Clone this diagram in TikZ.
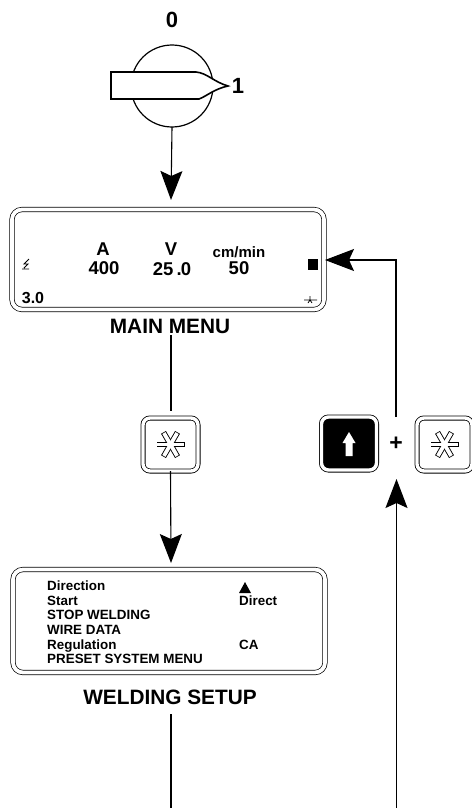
\documentclass[tikz,border=0pt]{standalone}
\usepackage{fontspec}
\setmainfont{Liberation Sans}
\usetikzlibrary{arrows.meta, positioning, calc}

\begin{document}
\begin{tikzpicture}[
    x=1pt, y=-1pt,
    node distance=40pt and 20pt,
    panel/.style  = {rectangle, draw, double, double distance=3.8pt, line width=0.7pt, rounded corners=10pt, minimum width=312pt, minimum height=100pt, outer sep=0pt, inner sep=0pt},
    keybox/.style = {rectangle, draw, double, double distance=3.4pt, line width=0.8pt, rounded corners=7pt, minimum width=55pt, minimum height=53pt, outer sep=0pt, inner sep=0pt},
    title/.style  = {font=\bfseries\fontsize{20.8}{20.8}\selectfont, inner sep=0pt},
    readout/.style= {font=\bfseries\fontsize{18.5}{18.5}\selectfont, inner sep=0pt},
    menuline/.style = {font=\bfseries\fontsize{13.4}{13.4}\selectfont, inner sep=0pt, anchor=base west},
    position/.style = {font=\bfseries\fontsize{22}{22}\selectfont, inner sep=0pt},
    arrow/.style  = {-{Stealth[length=29pt, width=22pt, inset=5pt]}, line width=1.1pt}
]
\useasboundingbox (0,0) rectangle (471,808);

% --- Switch ---
\node[circle, draw, line width=1.2pt, minimum size=82pt, inner sep=0pt, outer sep=0pt] (dial) at (172,86) {};
\draw[fill=white, line width=1.6pt] (111,72) -- (196,72) .. controls (207,73) and (214,82) .. (228,86) .. controls (214,89) and (207,96) .. (199,99) -- (111,99) -- cycle;
\node[position] (off) at (172,20) {0};
\node[position] (on) at (238,86) {1};

% --- Main menu ---
\node[panel] (menu) at (168,259.5) {};
\node[readout] (amp) at (103,249) {A};
\node[readout] (ampval) at (104,268) {400};
\node[readout] (volt) at (171,249) {V};
\node[readout] (voltval) at (172,269) {25\,.\kern-1pt0};
\node[font=\bfseries\fontsize{15}{15}\selectfont, inner sep=0pt] (speed) at (239,252) {cm/min};
\node[readout] (speedval) at (239,268) {50};
\node[fill, minimum size=10.5pt, inner sep=0pt, outer sep=0pt] (cursor) at (313,264.5) {};
\node[font=\bfseries\fontsize{16}{16}\selectfont, inner sep=0pt] (gauge) at (33,298) {3.0};
\draw[line width=0.9pt] (29,259) -- (24,264) -- (28,264) -- (24,268) (22,269) -- (29,269);
\draw[line width=0.8pt] (304,300) -- (317,300) (310,296) -- (310,300) -- (308,303) (310,300) -- (312,303);
\node[title, below=9pt of menu, xshift=2pt] (menutitle) {MAIN MENU};

% --- Keys ---
\node[keybox] (setkey) at (170.5,444.5) {};
\node[keybox, fill=black] (upkey) at (349,443.5) {};
\node[keybox] (setkeyb) at (444.5,444.5) {};
\node[font=\bfseries\fontsize{23}{23}\selectfont, inner sep=0pt] (plus) at (396,444) {+};
\foreach \k in {setkey, setkeyb} {
  \foreach \a in {0,60,120}
    \draw[line width=5.6pt] ($(\k)+(\a:14)$) -- ($(\k)+(\a+180:14)$);
  \foreach \a in {0,60,120}
    \draw[white, line width=3.8pt] ($(\k)+(\a:13.2)$) -- ($(\k)+(\a+180:13.2)$);
}
\fill[white] (349,432) -- (355.5,443) -- (352.5,443) -- (352.5,456) -- (345.5,456) -- (345.5,443) -- (342.5,443) -- cycle;

% --- Welding setup ---
\node[panel, minimum height=103pt] (setup) at (169,621) {};
\node[menuline] (l1) at (47,590.5) {Direction};
\node[menuline] (l2) at (47,605) {Start};
\node[menuline] (l3) at (47,619.5) {STOP WELDING};
\node[menuline] (l4) at (47,634) {WIRE DATA};
\node[menuline] (l5) at (47,649) {Regulation};
\node[menuline] (l6) at (47,663) {PRESET SYSTEM MENU};
\node[menuline] (direct) at (239,605) {Direct};
\node[menuline] (ca) at (239,649) {CA};
\fill (239,593) -- (245,582) -- (251,593) -- cycle;
\node[title, below=17pt of setup, xshift=1pt] (setuptitle) {WELDING SETUP};

% --- Arrows ---
\coordinate (stemtop) at (171,335);
\coordinate (stemend) at (171,411);
\coordinate (setupstem) at (171,714);
\coordinate (setupout) at (171,808);
\coordinate (backin) at (396.5,808);
\coordinate (backtip) at (396.5,479);
\coordinate (backout) at (396,417);
\coordinate (corner) at (396,260);
\coordinate (cursortip) at (325,260);
\coordinate (dialtip) at (171,200);
\coordinate (setuptip) at (171,563);
\draw[arrow] (dial.south) -- (dialtip);
\draw[line width=1.1pt] (stemtop) -- (stemend);
\draw[arrow] (setkey.south) -- (setuptip);
\draw[arrow] (backin) -- (backtip);
\draw[arrow] (backout) -- (corner) -- (cursortip);
\draw[line width=1.1pt] (setupstem) -- (setupout);
\end{tikzpicture}
\end{document}
